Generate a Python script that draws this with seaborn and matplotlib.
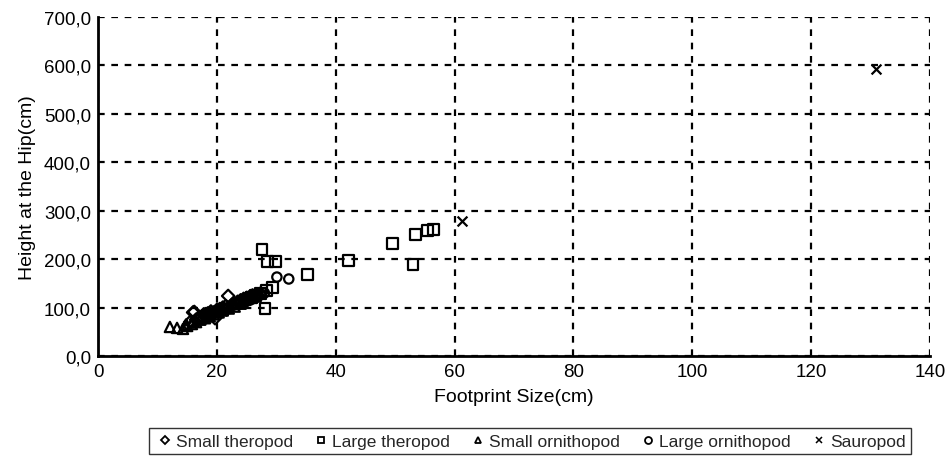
import matplotlib
matplotlib.use("Agg")
import matplotlib.pyplot as plt
import seaborn as sns
import pandas as pd
from matplotlib.ticker import FuncFormatter
from matplotlib.lines import Line2D

# ---- data ----
small_theropod_x = [15.5, 16.0, 16.5, 17.0, 17.5, 18.0, 18.5, 19.0, 19.5, 20.0, 20.5, 21.0,
                    21.5, 21.9, 22.5, 23.0, 23.5, 24.0, 24.5, 25.0, 25.5, 26.0, 19.7, 16.2,
                    18.2, 17.8, 19.2, 20.8, 22.2, 23.8, 25.2, 26.6, 27.2, 24.8, 21.6, 18.6]
small_theropod_y = [70, 90, 75, 80, 82, 85, 88, 92, 90, 95, 97, 100,
                    103, 124, 105, 108, 112, 115, 118, 120, 122, 125, 78, 91,
                    80, 86, 84, 92, 101, 110, 116, 122, 128, 114, 96, 83]

large_theropod_x = [27.6, 28.6, 29.8, 35.2, 29.4, 28.1, 42.1, 49.6, 53.5, 53.0, 55.4, 56.4,
                    26.5, 27.3, 28.3, 25.8]
large_theropod_y = [219, 196, 196, 169, 142, 99, 198, 233, 250, 188, 260, 261,
                    125, 130, 135, 120]

small_ornithopod_x = [12.1, 13.3, 14.3, 15.0, 15.8, 16.5, 17.2, 18.0, 18.8, 19.5, 20.3, 21.0,
                      22.0, 23.0, 24.0, 14.8, 16.0]
small_ornithopod_y = [60, 58, 56, 62, 66, 70, 75, 78, 82, 86, 90, 94,
                      98, 102, 108, 65, 72]

large_ornithopod_x = [30.1, 32.1, 22.0, 23.5, 24.5, 25.5, 26.5, 27.0, 27.5, 28.0, 20.5, 21.2,
                      24.0, 26.0]
large_ornithopod_y = [163, 159, 100, 106, 112, 115, 120, 125, 127, 130, 92, 98,
                      108, 118]

sauropod_x = [61.2, 130.9]
sauropod_y = [279, 592]

categories = ["Small theropod", "Large theropod", "Small ornithopod", "Large ornithopod", "Sauropod"]
xs = [small_theropod_x, large_theropod_x, small_ornithopod_x, large_ornithopod_x, sauropod_x]
ys = [small_theropod_y, large_theropod_y, small_ornithopod_y, large_ornithopod_y, sauropod_y]

x_ticks = [0, 20, 40, 60, 80, 100, 120, 140]
y_ticks = [0, 100, 200, 300, 400, 500, 600, 700]

rows = []
for c, xx, yy in zip(categories, xs, ys):
    for a, b in zip(xx, yy):
        rows.append({"Footprint": a, "Height": b, "Group": c})
df = pd.DataFrame(rows)

sns.set_theme(style="white")
plt.rcParams["font.family"] = ["Liberation Sans", "DejaVu Sans"]

fig = plt.figure(figsize=(9.48, 4.6), dpi=100)
ax = fig.add_axes([98 / 948, 1 - 357 / 460, (930 - 98) / 948, (357 - 18) / 460])

markers = {"Small theropod": "D", "Large theropod": "s", "Small ornithopod": "^",
           "Large ornithopod": "o", "Sauropod": "x"}
sizes_map = {"Small theropod": 40, "Large theropod": 62, "Small ornithopod": 55,
             "Large ornithopod": 45, "Sauropod": 50}

for c in categories:
    sub = df[df["Group"] == c]
    if c == "Sauropod":
        sns.scatterplot(data=sub, x="Footprint", y="Height", marker="x", color="black",
                        s=sizes_map[c], linewidth=1.6, ax=ax, zorder=3, legend=False)
    else:
        sns.scatterplot(data=sub, x="Footprint", y="Height", marker=markers[c],
                        facecolor="none", edgecolor="black", s=sizes_map[c],
                        linewidth=1.6, ax=ax, zorder=3, legend=False)

ax.set_xlim(0, 140)
ax.set_ylim(0, 700)
ax.set_xticks(x_ticks)
ax.set_yticks(y_ticks)
ax.yaxis.set_major_formatter(FuncFormatter(lambda v, p: f"{v:.1f}".replace(".", ",")))
ax.tick_params(axis="both", labelsize=13.5, colors="black", length=0, pad=5)
ax.grid(True, color="black", linestyle=(0, (3, 3)), linewidth=1.6)
ax.set_axisbelow(True)
for s in ["left", "bottom"]:
    ax.spines[s].set_visible(True)
    ax.spines[s].set_color("black")
    ax.spines[s].set_linewidth(2.0)
for s in ["top", "right"]:
    ax.spines[s].set_visible(False)

ax.set_xlabel("Footprint Size(cm)", fontsize=14, color="black", labelpad=6)
ax.set_ylabel("Height at the Hip(cm)", fontsize=14, color="black", labelpad=6)

handles = []
for c in categories:
    if c == "Sauropod":
        handles.append(Line2D([], [], linestyle="none", marker="x", color="black",
                              markersize=5, markeredgewidth=1.1))
    else:
        handles.append(Line2D([], [], linestyle="none", marker=markers[c],
                              markerfacecolor="white", markeredgecolor="black",
                              markersize=5 if c != "Small theropod" else 4.2,
                              markeredgewidth=1.3))
leg = fig.legend(handles, categories, loc="center", bbox_to_anchor=(530 / 948, 1 - 442 / 460),
                 ncol=5, frameon=True, fancybox=False, edgecolor="black",
                 fontsize=12.5, handletextpad=0.05, columnspacing=1.0, borderpad=0.3,
                 handlelength=1.2)
leg.get_frame().set_linewidth(1.0)

fig.savefig("out.png", dpi=100, facecolor="white")
